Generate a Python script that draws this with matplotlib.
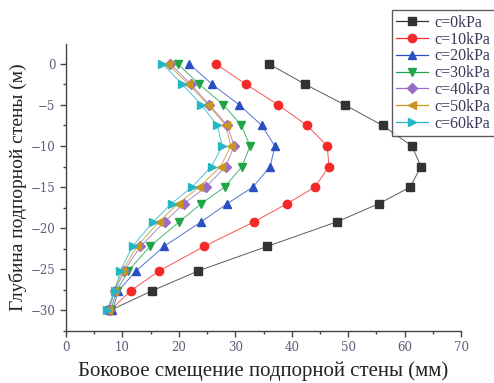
import numpy as np
import matplotlib
matplotlib.use('Agg')
import matplotlib.pyplot as plt
from matplotlib.ticker import MultipleLocator

# depth below top of wall (m)
depth = [0, -2.5, -5, -7.5, -10, -12.5, -15, -17, -19.2, -22.2, -25.2, -27.6, -30]

# lateral displacement (mm) for each cohesion value
disp_c0  = [35.9, 42.4, 49.4, 56.1, 61.3, 62.9, 61.0, 55.5, 48.1, 35.7, 23.4, 15.3, 7.8]
disp_c10 = [26.5, 31.9, 37.6, 42.7, 46.3, 46.6, 44.1, 39.2, 33.4, 24.5, 16.5, 11.5, 7.8]
disp_c20 = [21.8, 25.9, 30.7, 34.7, 37.0, 36.2, 33.1, 28.6, 24.0, 17.4, 12.4, 9.3, 8.2]
disp_c30 = [19.8, 23.6, 27.9, 31.1, 32.6, 31.2, 28.1, 24.0, 20.1, 14.9, 11.0, 9.0, 7.9]
disp_c40 = [18.5, 22.1, 25.4, 28.6, 29.8, 28.3, 24.8, 20.9, 17.5, 13.2, 10.3, 8.7, 7.6]
disp_c50 = [18.0, 21.7, 25.2, 28.3, 29.2, 27.4, 23.6, 19.9, 16.5, 12.6, 10.0, 8.5, 7.4]
disp_c60 = [17.1, 20.6, 24.0, 26.8, 27.7, 25.8, 22.3, 18.7, 15.5, 11.8, 9.6, 8.7, 7.2]

labels = ['c=0kPa', 'c=10kPa', 'c=20kPa', 'c=30kPa', 'c=40kPa', 'c=50kPa', 'c=60kPa']
series = [disp_c0, disp_c10, disp_c20, disp_c30, disp_c40, disp_c50, disp_c60]
colors = ['#333333', '#f42a2a', '#2a4fc4', '#1fa548', '#9a6cc8', '#c8961e', '#25b6c6']
markers = ['s', 'o', '^', 'v', 'D', '<', '>']
msizes = [5.5, 6, 6, 6, 5, 6, 6]

serif = 'DejaVu Serif'
tickcol = '#5c5c78'

fig = plt.figure(figsize=(4.94, 3.83), dpi=100)
ax = fig.add_axes([66/494., 1-331/383., (461-66)/494., (331-44)/383.])

for d, lab, col, mk, ms in zip(series, labels, colors, markers, msizes):
  ax.plot(d, depth, color=col, linewidth=0.7, alpha=0.8, zorder=2)
  ax.plot(d, depth, color=col, linestyle='none', marker=mk, markersize=ms, zorder=3)
  # legend proxy
  ax.plot([], [], color=col, linewidth=0.9, marker=mk, markersize=ms, label=lab)

ax.set_xlim(0, 70)
ax.set_ylim(-32.5, 2.4)
ax.xaxis.set_major_locator(MultipleLocator(10))
ax.xaxis.set_minor_locator(MultipleLocator(5))
ax.yaxis.set_major_locator(MultipleLocator(5))
ax.yaxis.set_minor_locator(MultipleLocator(2.5))
ax.spines['top'].set_visible(False)
ax.spines['right'].set_visible(False)
for s in ['left', 'bottom']:
  ax.spines[s].set_color('#444444')
  ax.spines[s].set_linewidth(1.0)
ax.tick_params(which='major', length=4, width=1.0, color='#444444', labelsize=8.5, labelcolor=tickcol)
ax.tick_params(which='minor', length=2.5, width=1.0, color='#444444')
for t in ax.get_xticklabels() + ax.get_yticklabels():
  t.set_fontfamily(serif)

ax.set_xlabel('Боковое смещение подпорной стены (мм)', fontsize=15, family='Liberation Serif', color='#222222', labelpad=5)
ax.set_ylabel('Глубина подпорной стены (м)', fontsize=14, family='Liberation Serif', color='#222222', labelpad=3)

h, l = ax.get_legend_handles_labels()
leg = fig.legend(h, l, loc='upper left', bbox_to_anchor=(391.7/494., 1-10/383.),
                 bbox_transform=fig.transFigure, prop={'family': 'Liberation Serif', 'size': 11.5},
                 frameon=True, fancybox=False, handlelength=2.0, handletextpad=0.35,
                 labelspacing=0.05, borderpad=0.3, borderaxespad=0.)
leg.get_frame().set_edgecolor('#333333')
leg.get_frame().set_linewidth(1.0)
for t in leg.get_texts():
  t.set_color('#3a3a5a')

plt.savefig('out.png', dpi=100)
